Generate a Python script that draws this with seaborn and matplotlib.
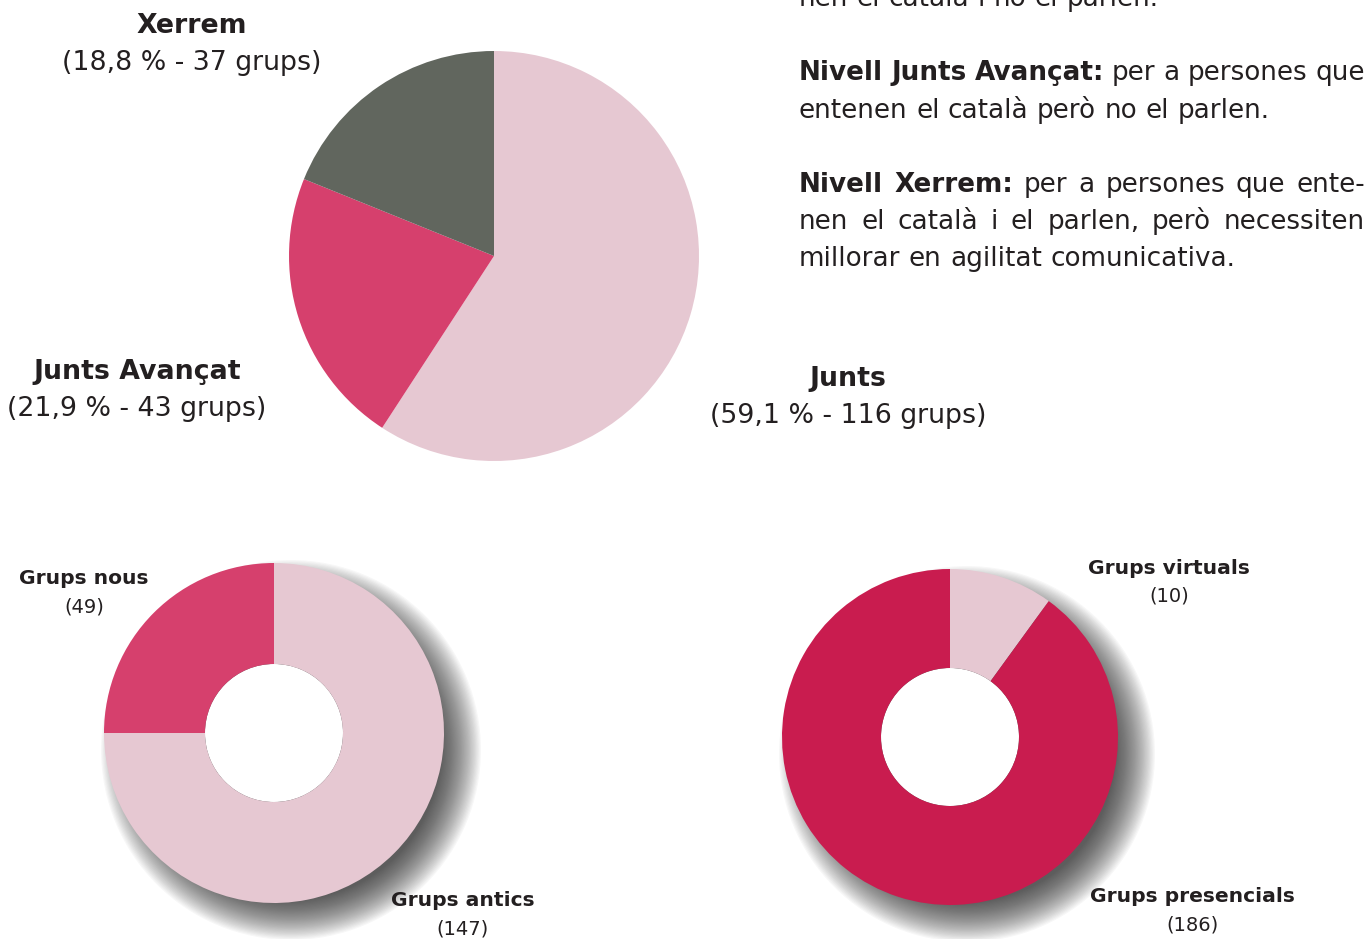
import numpy as np
import matplotlib
matplotlib.use("Agg")
import matplotlib.pyplot as plt
from matplotlib.patches import Circle
import seaborn as sns

# data
nivell_labels = ["Junts", "Junts Avançat", "Xerrem"]
nivell_groups = [116, 43, 37]
nivell_pct = ["59,1", "21,9", "18,8"]
nivell_colors = ["#E6C8D2", "#D6406D", "#61665E"]

antiguitat_labels = ["Grups antics", "Grups nous"]
antiguitat_groups = [147, 49]
antiguitat_colors = ["#E6C8D2", "#D6406D"]

modalitat_labels = ["Grups virtuals", "Grups presencials"]
modalitat_groups = [10, 186]
# slice sizes as drawn in the original (virtual slice is ~10 % of the ring)
modalitat_share = [10, 90]
modalitat_colors = ["#E6C8D2", "#C91C4F"]

# right-hand text, one entry per printed line: (bold prefix, rest, justified)
text_lines = [
    ("", "nen el català i no el parlen.", False),
    ("Nivell Junts Avançat:", "per a persones que", True),
    ("", "entenen el català però no el parlen.", False),
    ("Nivell Xerrem:", "per a persones que ente-", True),
    ("", "nen el català i el parlen, però necessiten", True),
    ("", "millorar en agilitat comunicativa.", False),
]
text_baseline = [6, 80, 118, 192, 229, 266]

sns.set_theme(style="white")
plt.rcParams["font.family"] = ["DejaVu Sans"]
TXT = "#231F20"

W, H = 1368, 939
fig = plt.figure(figsize=(W / 100, H / 100), dpi=100)
ax = fig.add_axes([0, 0, 1, 1])


def shadow(cx, cy, r, dx=17, dy=17, spread=20, n=34):
    # soft drop shadow made of stacked translucent discs
    for rr in np.linspace(r - spread, r + spread, n):
        ax.add_patch(Circle((cx + dx, cy - dy), rr, color="#1a1a1a",
                            alpha=0.032, lw=0, zorder=0))


# top pie
ax.pie(nivell_groups, colors=nivell_colors, startangle=90, counterclock=False,
       center=(494, H - 256), radius=205, wedgeprops=dict(linewidth=0))

# bottom-left donut
shadow(274, H - 733, 170)
ax.add_patch(Circle((274, H - 733), 69, color="white", lw=0, zorder=0.5))
ax.pie(antiguitat_groups, colors=antiguitat_colors, startangle=90, counterclock=False,
       center=(274, H - 733), radius=170, wedgeprops=dict(width=101, linewidth=0))

# bottom-right donut
shadow(950, H - 737, 168)
ax.add_patch(Circle((950, H - 737), 69, color="white", lw=0, zorder=0.5))
ax.pie(modalitat_share, colors=modalitat_colors, startangle=90, counterclock=False,
       center=(950, H - 737), radius=168, wedgeprops=dict(width=99, linewidth=0))

ax.set_xlim(0, W)
ax.set_ylim(0, H)
ax.set_aspect("equal")
ax.axis("off")

# pie labels
big = 19.3
for name, grp, pct, (x, y) in zip(nivell_labels, nivell_groups, nivell_pct,
                                  [(848, 379), (137, 372), (192, 26)]):
    ax.text(x, H - y, name, ha="center", va="center", fontsize=big,
            fontweight="bold", color=TXT)
    ax.text(x, H - y - 37, f"({pct} % - {grp} grups)", ha="center",
            va="center", fontsize=big, color=TXT)

small = 14.6
for name, grp, (x, y) in zip(antiguitat_labels + modalitat_labels,
                             antiguitat_groups + modalitat_groups,
                             [(463, 901), (84, 579), (1169, 568), (1192, 897)]):
    ax.text(x, H - y, name, ha="center", va="center", fontsize=small,
            fontweight="bold", color=TXT)
    ax.text(x, H - y - 28, f"({grp})", ha="center", va="center",
            fontsize=14, color=TXT)

# justified paragraph text
fig.canvas.draw()
renderer = fig.canvas.get_renderer()
left, right = 799, 1365
body = 18.9


def width_of(t):
    return t.get_window_extent(renderer).width


probe = [ax.text(0, 0, s, fontsize=body) for s in ("a a", "aa")]
space_w = width_of(probe[0]) - width_of(probe[1])
for p in probe:
    p.remove()

for (bold, rest, justify), y in zip(text_lines, text_baseline):
    words = [(w, True) for w in bold.split()] + [(w, False) for w in rest.split()]
    items = []
    for w, b in words:
        t = ax.text(0, H - y, w, fontsize=body, va="baseline", ha="left",
                    fontweight="bold" if b else "normal", color=TXT)
        items.append((t, width_of(t)))
    total = sum(wd for _, wd in items)
    gap = (right - left - total) / (len(items) - 1) if justify else space_w
    x = left
    for t, wd in items:
        t.set_x(x)
        x += wd + gap

fig.savefig("out.png", dpi=100, facecolor="white")
